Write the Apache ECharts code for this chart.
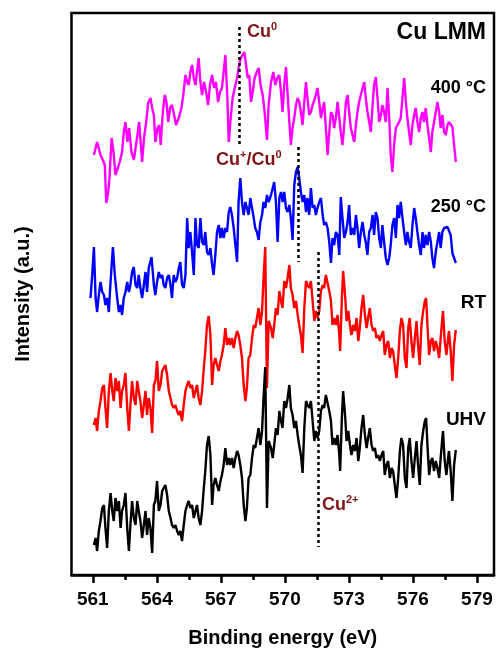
<!DOCTYPE html>
<html>
<head>
<meta charset="utf-8">
<script src="https://cdn.jsdelivr.net/npm/echarts@6/dist/echarts.min.js"></script>
<style>
  html, body { margin: 0; padding: 0; background: #fff; }
  #chart { width: 496px; height: 653px; }
</style>
</head>
<body>
<div id="chart"></div>
<script>
// Cu LMM spectra, [binding energy (eV), intensity (a.u., offset stacked)]
const spec400 = [
  [561.05,420],[561.20,433],[561.36,420],[561.47,415],[561.56,410],[561.63,372],[561.72,383],[561.78,397],[561.88,437],[561.97,423],
  [562.06,400],[562.17,407],[562.26,413],[562.37,423],[562.45,443],[562.53,453],[562.62,433],[562.70,447],[562.81,423],[562.92,415],
  [563.00,413],[563.11,443],[563.17,453],[563.25,430],[563.31,413],[563.40,437],[563.50,453],[563.59,472],[563.70,477],[563.78,467],
  [563.86,460],[563.93,433],[564.03,447],[564.11,450],[564.18,430],[564.28,463],[564.37,480],[564.45,473],[564.53,453],[564.62,467],
  [564.71,470],[564.81,460],[564.90,450],[565.03,457],[565.15,467],[565.24,480],[565.34,500],[565.42,493],[565.49,490],[565.57,503],
  [565.65,510],[565.73,497],[565.81,490],[565.88,503],[565.96,517],[566.04,493],[566.12,480],[566.21,493],[566.31,483],[566.40,470],
  [566.49,490],[566.59,500],[566.68,487],[566.77,493],[566.87,473],[566.96,483],[567.05,487],[567.13,503],[567.21,520],[567.30,480],
  [567.37,433],[567.46,457],[567.55,477],[567.65,487],[567.76,497],[567.83,507],[567.93,517],[568.02,520],[568.10,523],[568.18,510],
  [568.26,497],[568.33,500],[568.41,473],[568.49,483],[568.58,497],[568.68,503],[568.77,507],[568.86,490],[568.96,480],[569.05,463],
  [569.16,435],[569.24,470],
  [569.35,493],[569.46,503],[569.55,490],[569.64,497],[569.74,500],[569.83,480],[569.89,463],[569.97,490],[570.05,508],[570.13,480],
  [570.21,453],[570.28,430],[570.36,447],[570.44,457],[570.52,470],[570.60,477],[570.67,473],[570.75,463],[570.83,450],[570.91,473],
  [570.99,493],[571.06,477],[571.14,460],[571.22,463],[571.30,470],[571.41,477],[571.53,487],[571.61,473],[571.69,457],[571.77,467],
  [571.84,473],[571.92,447],[572.00,420],[572.08,443],[572.16,463],[572.23,460],[572.31,447],[572.39,457],[572.47,473],[572.55,457],
  [572.62,443],[572.70,430],[572.78,450],[572.86,473],[572.94,480],[573.01,463],[573.09,447],[573.17,440],[573.25,433],[573.33,450],
  [573.40,463],[573.48,473],[573.56,480],[573.64,487],[573.72,493],[573.79,477],[573.87,463],[573.95,453],[574.03,443],[574.11,470],
  [574.18,490],[574.26,498],[574.34,477],[574.42,453],[574.50,460],[574.57,470],[574.65,463],[574.73,453],[574.81,487],[574.89,457],
  [574.96,420],[575.04,403],[575.12,430],[575.20,447],[575.28,450],[575.35,453],[575.43,457],[575.51,477],[575.59,497],[575.67,473],
  [575.74,457],[575.82,443],[575.90,430],[575.98,450],[576.06,460],[576.13,467],[576.21,453],[576.29,443],[576.37,457],[576.45,463],
  [576.52,453],[576.60,467],[576.68,450],[576.76,437],[576.84,423],[576.91,443],[576.99,453],[577.07,463],[577.15,473],[577.23,463],
  [577.30,447],[577.38,460],[577.46,443],[577.54,440],[577.62,450],[577.69,453],[577.77,452],[577.85,448],[577.93,430],[578.01,413]
];

const spec250 = [
  [560.89,277],[560.97,300],[561.05,328],[561.13,277],[561.20,263],[561.28,280],[561.36,293],[561.44,283],[561.52,280],[561.59,270],
  [561.67,277],[561.75,263],[561.83,293],[561.94,328],[562.03,300],[562.14,277],[562.22,263],[562.30,270],[562.37,260],[562.45,277],
  [562.53,283],[562.61,293],[562.69,283],[562.76,290],[562.84,303],[562.92,308],[563.00,290],[563.08,287],[563.15,300],[563.23,287],
  [563.31,277],[563.39,290],[563.47,303],[563.54,283],[563.62,307],[563.75,318],[563.86,290],[563.93,280],[564.01,293],[564.09,303],
  [564.17,297],[564.25,300],[564.32,290],[564.40,287],[564.48,297],[564.56,300],[564.64,290],[564.71,277],[564.79,300],[564.87,293],
  [564.95,297],[565.03,307],[565.10,313],[565.18,290],[565.26,287],[565.34,300],[565.42,357],[565.49,327],[565.57,343],[565.65,323],
  [565.73,300],[565.81,357],[565.88,330],[565.96,327],[566.04,357],[566.12,333],[566.20,330],[566.27,343],[566.35,323],[566.43,320],
  [566.51,327],[566.59,310],[566.66,300],[566.74,320],[566.82,343],[566.90,350],[566.98,337],[567.05,347],[567.13,337],[567.21,347],
  [567.29,343],[567.37,363],[567.44,368],[567.52,360],[567.60,347],[567.68,330],[567.76,313],[567.83,373],[567.91,397],[567.99,373],
  [568.07,360],[568.15,373],[568.22,367],[568.30,360],[568.38,377],[568.46,367],[568.54,357],[568.61,347],[568.69,343],[568.77,335],
  [568.85,353],[568.93,360],[569.00,373],[569.08,367],[569.16,380],[569.24,373],
  [569.35,380],[569.43,387],[569.50,393],[569.58,373],[569.66,333],[569.74,377],[569.82,383],[569.89,373],[569.97,383],[570.05,367],
  [570.13,363],[570.21,370],[570.28,357],[570.36,335],[570.44,390],[570.52,403],[570.60,408],[570.67,397],[570.75,383],[570.83,373],
  [570.91,380],[570.99,363],[571.06,377],[571.14,360],[571.22,387],[571.30,367],[571.38,370],[571.45,360],[571.53,367],[571.61,373],
  [571.69,377],[571.77,360],[571.84,350],[571.92,353],[572.00,347],[572.08,333],[572.16,312],[572.23,337],[572.31,330],[572.39,343],
  [572.47,340],[572.55,320],[572.62,378],[572.70,357],[572.78,337],[572.86,343],[572.94,353],[573.01,370],[573.09,340],[573.17,347],
  [573.25,340],[573.33,360],[573.40,347],[573.48,327],[573.56,343],[573.64,353],[573.72,340],[573.79,333],[573.87,320],[573.95,343],
  [574.03,347],[574.11,360],[574.18,340],[574.26,363],[574.34,357],[574.42,337],[574.50,327],[574.57,350],[574.65,333],[574.73,317],
  [574.81,310],[574.89,317],[574.96,330],[575.04,350],[575.12,357],[575.20,337],[575.28,370],[575.35,357],[575.43,373],[575.51,357],
  [575.59,343],[575.67,330],[575.74,343],[575.82,333],[575.90,327],[575.98,350],[576.06,367],[576.13,357],[576.21,343],[576.29,330],
  [576.37,320],[576.45,343],[576.52,327],[576.60,340],[576.68,330],[576.76,343],[576.84,333],[576.91,317],[576.99,307],[577.07,323],
  [577.15,333],[577.23,343],[577.30,327],[577.38,343],[577.46,347],[577.54,348],[577.62,348],[577.69,347],[577.77,340],[577.85,322],
  [577.93,320],[578.01,312]
];

const specRT = [
  [561.05,150],[561.13,157],[561.20,144],[561.28,164],[561.36,174],[561.44,187],[561.52,190],[561.59,167],[561.67,147],[561.75,184],
  [561.83,202],[561.91,184],[561.98,174],[562.06,197],[562.14,184],[562.22,194],[562.30,167],[562.37,184],[562.45,190],[562.53,202],
  [562.61,167],[562.69,144],[562.76,170],[562.84,194],[562.92,177],[563.00,170],[563.08,194],[563.15,184],[563.23,174],[563.31,157],
  [563.39,170],[563.47,184],[563.54,160],[563.62,177],[563.70,167],[563.78,142],[563.86,190],[563.93,194],[564.01,214],[564.09,184],
  [564.17,190],[564.25,204],[564.32,207],[564.40,210],[564.48,200],[564.56,184],[564.64,177],[564.71,170],[564.79,167],[564.87,170],
  [564.95,164],[565.03,160],[565.10,164],[565.18,154],[565.26,170],[565.34,184],[565.42,190],[565.49,194],[565.57,187],[565.65,190],
  [565.73,177],[565.81,184],[565.88,190],[565.96,177],[566.04,170],[566.12,184],[566.20,207],[566.27,224],[566.35,250],[566.43,259],
  [566.51,240],[566.59,190],[566.66,210],[566.74,217],[566.82,210],[566.90,204],[566.98,214],[567.05,220],[567.13,230],[567.21,247],
  [567.29,230],[567.37,237],[567.44,230],[567.52,237],[567.60,227],[567.68,237],[567.76,244],[567.83,240],[567.91,230],[567.99,217],
  [568.07,190],[568.15,174],[568.22,187],[568.30,217],[568.38,220],[568.46,237],[568.54,250],[568.61,247],[568.69,257],[568.77,267],
  [568.85,250],[568.93,264],[569.00,297],[569.08,328],[569.16,187],[569.24,254],
  [569.35,247],[569.43,237],[569.50,250],[569.58,267],[569.66,260],[569.74,284],[569.82,274],[569.89,267],[569.97,294],[570.05,287],
  [570.13,297],[570.21,310],[570.28,287],[570.36,280],[570.44,267],[570.52,274],[570.60,260],[570.67,250],[570.75,240],[570.83,222],
  [570.91,267],[570.99,294],[571.06,290],[571.14,287],[571.22,294],[571.30,274],[571.38,254],[571.45,264],[571.53,257],[571.61,264],
  [571.69,284],[571.77,290],[571.84,287],[571.92,300],[572.00,302],[572.08,284],[572.16,274],[572.23,250],[572.31,257],[572.39,250],
  [572.47,260],[572.55,240],[572.59,224],[572.67,277],[572.73,304],[572.83,277],[572.89,254],[572.97,264],[573.05,250],[573.12,240],
  [573.20,250],[573.28,244],[573.36,257],[573.44,234],[573.51,247],[573.59,267],[573.67,280],[573.75,260],[573.83,247],[573.90,257],
  [573.98,267],[574.06,250],[574.14,244],[574.22,247],[574.29,237],[574.37,240],[574.45,234],[574.53,240],[574.61,244],[574.68,220],
  [574.76,230],[574.84,234],[574.92,217],[575.00,227],[575.07,224],[575.15,210],[575.23,197],[575.31,217],[575.39,244],[575.46,257],
  [575.54,250],[575.62,217],[575.70,207],[575.78,247],[575.85,257],[575.93,234],[576.01,217],[576.09,237],[576.17,254],[576.24,230],
  [576.32,210],[576.40,250],[576.48,264],[576.56,274],[576.62,277],[576.68,250],[576.76,220],[576.84,234],[576.91,237],[576.99,224],
  [577.07,234],[577.15,227],[577.23,217],[577.30,237],[577.38,257],[577.41,264],[577.49,234],[577.57,220],[577.65,237],[577.69,244],
  [577.77,224],[577.85,194],[577.93,230],[578.01,245]
];

const specUHV = [
  [561.05,30],[561.13,37],[561.20,24],[561.28,44],[561.36,54],[561.44,67],[561.52,70],[561.59,47],[561.67,27],[561.75,64],
  [561.83,82],[561.91,64],[561.98,54],[562.06,77],[562.14,64],[562.22,74],[562.30,47],[562.37,64],[562.45,70],[562.53,82],
  [562.61,47],[562.69,24],[562.76,50],[562.84,74],[562.92,57],[563.00,50],[563.08,74],[563.15,64],[563.23,54],[563.31,37],
  [563.39,50],[563.47,64],[563.54,40],[563.62,57],[563.70,47],[563.78,22],[563.86,70],[563.93,74],[564.01,94],[564.09,64],
  [564.17,70],[564.25,84],[564.32,87],[564.40,90],[564.48,80],[564.56,64],[564.64,57],[564.71,50],[564.79,47],[564.87,50],
  [564.95,44],[565.03,40],[565.10,44],[565.18,34],[565.26,50],[565.34,64],[565.42,70],[565.49,74],[565.57,67],[565.65,70],
  [565.73,57],[565.81,64],[565.88,70],[565.96,57],[566.04,50],[566.12,64],[566.20,87],[566.27,104],[566.35,130],[566.43,139],
  [566.51,120],[566.59,70],[566.66,90],[566.74,97],[566.82,90],[566.90,84],[566.98,94],[567.05,100],[567.13,110],[567.21,127],
  [567.29,110],[567.37,117],[567.44,110],[567.52,117],[567.60,107],[567.68,117],[567.76,124],[567.83,120],[567.91,110],[567.99,97],
  [568.07,70],[568.15,54],[568.22,67],[568.30,97],[568.38,100],[568.46,117],[568.54,130],[568.61,127],[568.69,137],[568.77,147],
  [568.85,130],[568.93,144],[569.00,177],[569.08,208],[569.16,67],[569.24,134],
  [569.35,127],[569.43,117],[569.50,130],[569.58,147],[569.66,140],[569.74,164],[569.82,154],[569.89,147],[569.97,174],[570.05,167],
  [570.13,177],[570.21,190],[570.28,167],[570.36,160],[570.44,147],[570.52,154],[570.60,140],[570.67,130],[570.75,120],[570.83,102],
  [570.91,147],[570.99,174],[571.06,170],[571.14,167],[571.22,174],[571.30,154],[571.38,134],[571.45,144],[571.53,137],[571.61,144],
  [571.69,164],[571.77,170],[571.84,167],[571.92,180],[572.00,182],[572.08,164],[572.16,154],[572.23,130],[572.31,137],[572.39,130],
  [572.47,140],[572.55,120],[572.59,104],[572.67,157],[572.73,184],[572.83,157],[572.89,134],[572.97,144],[573.05,130],[573.12,120],
  [573.20,130],[573.28,124],[573.36,137],[573.44,114],[573.51,127],[573.59,147],[573.67,160],[573.75,140],[573.83,127],[573.90,137],
  [573.98,147],[574.06,130],[574.14,124],[574.22,127],[574.29,117],[574.37,120],[574.45,114],[574.53,120],[574.61,124],[574.68,100],
  [574.76,110],[574.84,114],[574.92,97],[575.00,107],[575.07,104],[575.15,90],[575.23,77],[575.31,97],[575.39,124],[575.46,137],
  [575.54,130],[575.62,97],[575.70,87],[575.78,127],[575.85,137],[575.93,114],[576.01,97],[576.09,117],[576.17,134],[576.24,110],
  [576.32,90],[576.40,130],[576.48,144],[576.56,154],[576.62,157],[576.68,130],[576.76,100],[576.84,114],[576.91,117],[576.99,104],
  [577.07,114],[577.15,107],[577.23,97],[577.30,117],[577.38,137],[577.41,144],[577.49,114],[577.57,100],[577.65,117],[577.69,124],
  [577.77,104],[577.85,74],[577.93,110],[578.01,125]
];

// axis ticks
const majorTicks = [561, 564, 567, 570, 573, 576, 579];
const minorTicks = [562.5, 565.5, 568.5, 571.5, 574.5, 577.5];

// reference positions (eV) and their vertical extent
const refLines = [
  {name: 'Cu0', x: 567.87, from: 548, to: 428},
  {name: 'Cu+/Cu0', x: 570.63, from: 428, to: 313},
  {name: 'Cu2+', x: 571.58, from: 323, to: 28}
];

const FONT = '"Liberation Sans", Arial, sans-serif';
const MAROON = '#7f1416';

const chart = echarts.init(document.getElementById('chart'), null, {renderer: 'canvas'});

const lineSeries = (name, data, color) => ({
  name: name,
  type: 'line',
  data: data,
  showSymbol: false,
  symbol: 'none',
  xAxisIndex: 0,
  lineStyle: {color: color, width: 2.4},
  z: 3
});

// maroon label with superscripts
const supText = (x, y, parts) => ({
  type: 'text',
  x: x,
  y: y,
  style: {
    text: parts,
    fill: MAROON,
    font: 'bold 18px ' + FONT,
    textVerticalAlign: 'middle',
    rich: {
      b: {fontFamily: FONT, fontWeight: 'bold', fontSize: 18, fill: MAROON, lineHeight: 22},
      s: {fontFamily: FONT, fontWeight: 'bold', fontSize: 11, fill: MAROON, verticalAlign: 'top', lineHeight: 22}
    }
  }
});

const blackText = (text, x, y, size) => ({
  type: 'text',
  x: x,
  y: y,
  style: {
    text: text,
    fill: '#000',
    font: 'bold ' + size + 'px ' + FONT,
    textAlign: 'right',
    textVerticalAlign: 'middle'
  }
});

chart.setOption({
  animation: false,
  backgroundColor: '#fff',
  grid: {
    left: 71.5, right: 2, top: 13, bottom: 78,
    show: true, borderColor: '#000', borderWidth: 2.5
  },
  xAxis: [
    {
      type: 'value', min: 560, max: 579.8, position: 'bottom',
      name: 'Binding energy (eV)', nameLocation: 'middle', nameGap: 53,
      nameTextStyle: {fontFamily: FONT, fontWeight: 'bold', fontSize: 20, color: '#000'},
      axisLine: {show: true, lineStyle: {color: '#000', width: 2.5}},
      axisTick: {show: true, customValues: majorTicks, length: 8, lineStyle: {color: '#000', width: 2.5}},
      axisLabel: {show: true, customValues: majorTicks, margin: 15,
        fontFamily: FONT, fontWeight: 'bold', fontSize: 19, color: '#000'},
      splitLine: {show: false}
    },
    {
      type: 'value', min: 560, max: 579.8, position: 'bottom',
      axisLine: {show: false},
      axisTick: {show: true, customValues: minorTicks, length: 5, lineStyle: {color: '#000', width: 2.5}},
      axisLabel: {show: false},
      splitLine: {show: false}
    }
  ],
  yAxis: {
    type: 'value', min: 0, max: 562,
    name: 'Intensity (a.u.)', nameLocation: 'middle', nameGap: 38, nameRotate: 90,
    nameTextStyle: {fontFamily: FONT, fontWeight: 'bold', fontSize: 20, color: '#000'},
    axisLine: {show: false},
    axisTick: {show: false},
    axisLabel: {show: false},
    splitLine: {show: false}
  },
  series: [
    lineSeries('400 °C', spec400, '#ff00ff'),
    lineSeries('250 °C', spec250, '#0000ff'),
    lineSeries('RT', specRT, '#ff0000'),
    Object.assign(lineSeries('UHV', specUHV, '#000000'), {
      markLine: {
        silent: true,
        symbol: 'none',
        label: {show: false},
        lineStyle: {color: '#000', type: [3, 3], width: 2.5},
        data: refLines.map(r => [{coord: [r.x, r.from]}, {coord: [r.x, r.to]}])
      }
    })
  ],
  graphic: [
    blackText('Cu LMM', 486, 33, 23),
    blackText('400 °C', 486, 88, 18),
    blackText('250 °C', 486, 207, 18),
    blackText('RT', 486, 303, 19),
    blackText('UHV', 486, 420, 19),
    supText(247, 32, '{b|Cu}{s|0}'),
    supText(216, 160, '{b|Cu}{s|+}{b|/Cu}{s|0}'),
    supText(322, 505, '{b|Cu}{s|2+}')
  ]
});
</script>
</body>
</html>
